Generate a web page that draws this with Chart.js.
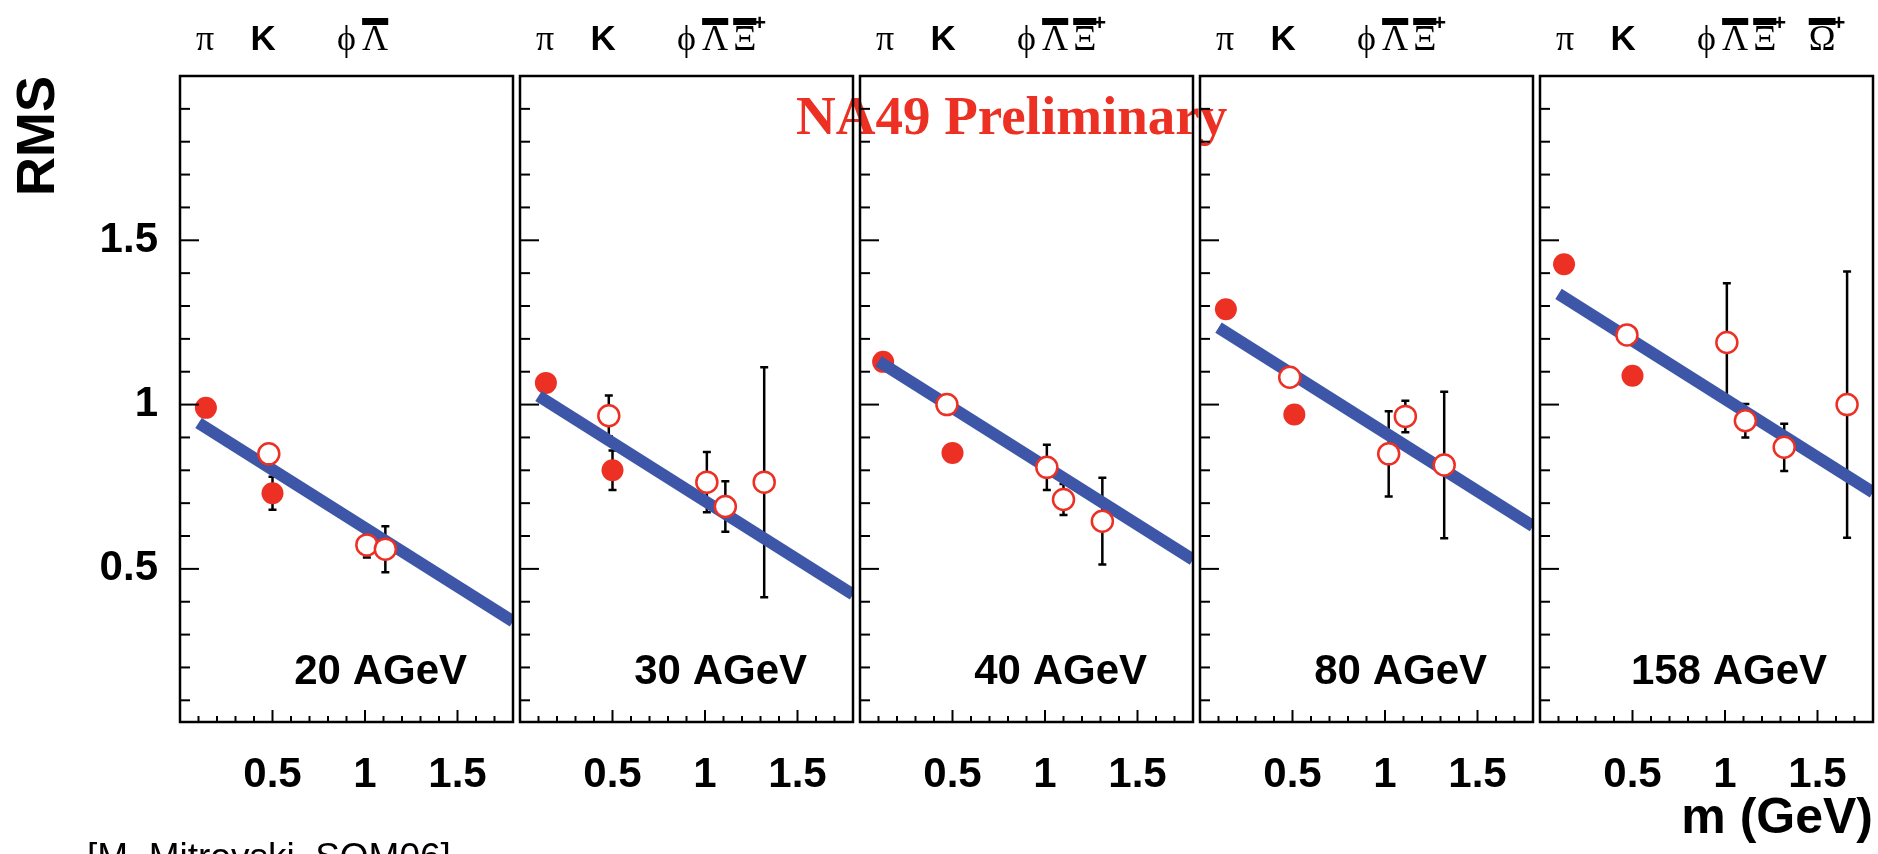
<!DOCTYPE html>
<html lang="en">
<head>
  <meta charset="UTF-8" />
  <title>RMS vs m - NA49 Preliminary</title>
  <script src="https://cdn.jsdelivr.net/npm/chart.js"></script>
<style>
  html, body {
    margin: 0;
    padding: 0;
    background: #ffffff;
    width: 1878px;
    height: 854px;
    overflow: hidden;
  }
  canvas.layer {
    position: absolute;
    left: 0;
    top: 0;
  }
</style>
</head>
<body>
  <div id="wrap"></div>

  <script>
    // ---- values ----
    const energies = ['20 AGeV', '30 AGeV', '40 AGeV', '80 AGeV', '158 AGeV'];

    // filled circles (pi, K-)
    const filledX   = [[0.14, 0.50], [0.14, 0.50], [0.125, 0.50], [0.14, 0.51], [0.13, 0.50]];
    const filledY   = [[0.99, 0.73], [1.066, 0.80], [1.13, 0.853], [1.29, 0.97], [1.427, 1.088]];
    const filledErr = [[0, 0.05], [0, 0.06], [0, 0], [0, 0], [0, 0]];

    // open circles (K+, phi, anti-Lambda, anti-Xi, anti-Omega)
    const openX = [
      [0.48, 1.01, 1.11],
      [0.48, 1.01, 1.11, 1.32],
      [0.47, 1.01, 1.10, 1.31],
      [0.485, 1.02, 1.11, 1.32],
      [0.47, 1.01, 1.11, 1.32, 1.66]
    ];
    const openY = [
      [0.85, 0.573, 0.56],
      [0.966, 0.764, 0.69, 0.764],
      [1.00, 0.809, 0.711, 0.645],
      [1.083, 0.85, 0.964, 0.816],
      [1.212, 1.189, 0.951, 0.87, 1.00]
    ];
    const openErr = [
      [0, 0.038, 0.07],
      [0.062, 0.092, 0.077, 0.35],
      [0, 0.069, 0.047, 0.132],
      [0, 0.13, 0.048, 0.223],
      [0.025, 0.18, 0.051, 0.072, 0.405]
    ];

    // blue fit lines, value at each end
    const fitX = [0.1, 1.8];
    const fitY = [[0.944, 0.340], [1.026, 0.422], [1.132, 0.528], [1.234, 0.630], [1.337, 0.733]];

    // particle names over the panels
    const particleText = ['π', 'K', 'ϕ', 'Λ', 'Ξ', 'Ω'];
    const particlePos  = [0.135, 0.45, 0.90, 1.055, 1.215, 1.525];
    const particleBar  = [false, false, false, true, true, true];
    const particlePlus = [false, false, false, false, true, true];
    const particleCount = [4, 5, 5, 5, 6];

    const xTickLabels = [0.5, 1, 1.5];
    const yTickLabels = [0.5, 1, 1.5];

    // ---- layout ----
    const W = 1878, H = 854;
    const panelLeft = [180, 520, 860, 1200, 1540];
    const panelWidth = 333;
    const areaTop = 76, areaBottom = 722;
    const yAxisWidth = 180;

    const red = '#ec3124';
    const blue = '#3d56a7';
    const sans = '"Liberation Sans", Arial, Helvetica, sans-serif';
    const serif = '"Liberation Serif", "Times New Roman", "DejaVu Serif", serif';

    const pts = (xs, ys) => xs.map((x, k) => ({ x: x, y: ys[k] }));

    function errorBars(i) {
      return {
        id: 'errbars' + i,
        beforeDatasetsDraw(chart) {
          const { ctx, scales: { x, y } } = chart;
          const sets = [[filledX[i], filledY[i], filledErr[i]], [openX[i], openY[i], openErr[i]]];
          ctx.save();
          ctx.strokeStyle = '#000';
          ctx.lineWidth = 2.5;
          sets.forEach(([xs, ys, es]) => {
            xs.forEach((xv, k) => {
              if (!es[k]) return;
              const px = x.getPixelForValue(xv);
              const y1 = y.getPixelForValue(ys[k] + es[k]);
              const y2 = y.getPixelForValue(ys[k] - es[k]);
              ctx.beginPath();
              ctx.moveTo(px, y1); ctx.lineTo(px, y2);
              ctx.moveTo(px - 4, y1); ctx.lineTo(px + 4, y1);
              ctx.moveTo(px - 4, y2); ctx.lineTo(px + 4, y2);
              ctx.stroke();
            });
          });
          ctx.restore();
        }
      };
    }

    function decorations(i) {
      return {
        id: 'deco' + i,
        afterDraw(chart) {
          const { ctx, chartArea: a, scales: { x, y } } = chart;
          ctx.save();
          ctx.fillStyle = '#000';

          // particle names
          for (let k = 0; k < particleCount[i]; k++) {
            const cx = x.getPixelForValue(particlePos[k]);
            const t = particleText[k];
            ctx.font = t === 'K' ? 'bold 35px ' + sans : '36px ' + serif;
            ctx.textAlign = 'center';
            ctx.textBaseline = 'alphabetic';
            ctx.fillText(t, cx, 50);
            const w = ctx.measureText(t).width;
            if (particleBar[k]) ctx.fillRect(cx - w / 2, 18, w, 7);
            if (particlePlus[k]) {
              ctx.font = 'bold 22px ' + sans;
              ctx.textAlign = 'left';
              ctx.fillText('+', cx + w / 2 - 3, 30);
            }
          }

          // beam energy
          ctx.font = 'bold 42px ' + sans;
          ctx.textAlign = 'right';
          ctx.fillText(energies[i], a.left + 287, 684);

          if (i === 1) {
            ctx.font = 'bold 55px ' + serif;
            ctx.fillStyle = red;
            ctx.textAlign = 'left';
            ctx.fillText('NA49 Preliminary', 796, 134);
            ctx.fillStyle = '#000';
          }
          if (i === 0) {
            ctx.font = '37px ' + sans;
            ctx.textAlign = 'left';
            ctx.fillText('[M. Mitrovski, SQM06]', 87, 869);
          }

          // inward ticks and frame
          ctx.strokeStyle = '#000';
          ctx.lineWidth = 2;
          for (let k = 1; k <= 19; k++) {
            const py = y.getPixelForValue(k / 10);
            ctx.beginPath();
            ctx.moveTo(a.left, py);
            ctx.lineTo(a.left + (k % 5 === 0 ? 19 : 10), py);
            ctx.stroke();
          }
          for (let k = 1; k <= 17; k++) {
            const px = x.getPixelForValue(k / 10);
            ctx.beginPath();
            ctx.moveTo(px, a.bottom);
            ctx.lineTo(px, a.bottom - (k % 5 === 0 ? 12 : 6));
            ctx.stroke();
          }
          ctx.lineWidth = 2.5;
          ctx.strokeRect(a.left, a.top, a.right - a.left, a.bottom - a.top);
          ctx.restore();
        }
      };
    }

    const wrap = document.getElementById('wrap');

    energies.forEach((e, i) => {
      const canvas = document.createElement('canvas');
      canvas.className = 'layer';
      canvas.width = W;
      canvas.height = H;
      wrap.appendChild(canvas);

      const first = i === 0;
      const last = i === energies.length - 1;

      new Chart(canvas.getContext('2d'), {
        type: 'scatter',
        data: {
          datasets: [
            {
              label: 'open',
              data: pts(openX[i], openY[i]),
              pointRadius: 10.5,
              pointBorderWidth: 2.5,
              pointBorderColor: red,
              pointBackgroundColor: '#ffffff',
              order: 1
            },
            {
              type: 'line',
              label: 'fit',
              data: pts(fitX, fitY[i]),
              borderColor: blue,
              borderWidth: 12,
              borderCapStyle: 'butt',
              pointRadius: 0,
              fill: false,
              clip: 0,
              order: 2
            },
            {
              label: 'filled',
              data: pts(filledX[i], filledY[i]),
              pointRadius: 11,
              pointBorderWidth: 0,
              pointBackgroundColor: red,
              order: 3
            }
          ]
        },
        options: {
          responsive: false,
          animation: false,
          devicePixelRatio: 1,
          events: [],
          layout: {
            autoPadding: false,
            padding: {
              left: first ? panelLeft[i] - yAxisWidth : panelLeft[i],
              right: W - panelLeft[i] - panelWidth,
              top: areaTop,
              bottom: 0
            }
          },
          scales: {
            x: {
              type: 'linear',
              min: 0,
              max: 1.8,
              afterBuildTicks: s => { s.ticks = xTickLabels.map(v => ({ value: v })); },
              afterFit: s => { s.height = H - areaBottom; },
              grid: { display: false, drawTicks: false },
              border: { display: false },
              ticks: {
                color: '#000',
                padding: 28,
                font: { family: sans, size: 42, weight: 'bold' },
                callback: v => String(v)
              },
              title: {
                display: last,
                text: 'm (GeV)',
                align: 'end',
                color: '#000',
                padding: { top: 0, bottom: 5 },
                font: { family: sans, size: 50, weight: 'bold' }
              }
            },
            y: {
              type: 'linear',
              display: first,
              min: 0.034,
              max: 2,
              afterBuildTicks: s => { s.ticks = yTickLabels.map(v => ({ value: v })); },
              afterFit: s => { s.width = first ? yAxisWidth : 0; },
              grid: { display: false, drawTicks: false },
              border: { display: false },
              ticks: {
                color: '#000',
                padding: 22,
                font: { family: sans, size: 42, weight: 'bold' },
                callback: v => String(v)
              },
              title: {
                display: true,
                text: 'RMS',
                align: 'end',
                color: '#000',
                padding: { top: 7, bottom: 0 },
                font: { family: sans, size: 54, weight: 'bold' }
              }
            }
          },
          plugins: {
            legend: { display: false },
            tooltip: { enabled: false }
          }
        },
        plugins: [errorBars(i), decorations(i)]
      });
    });
  </script>
</body>
</html>
